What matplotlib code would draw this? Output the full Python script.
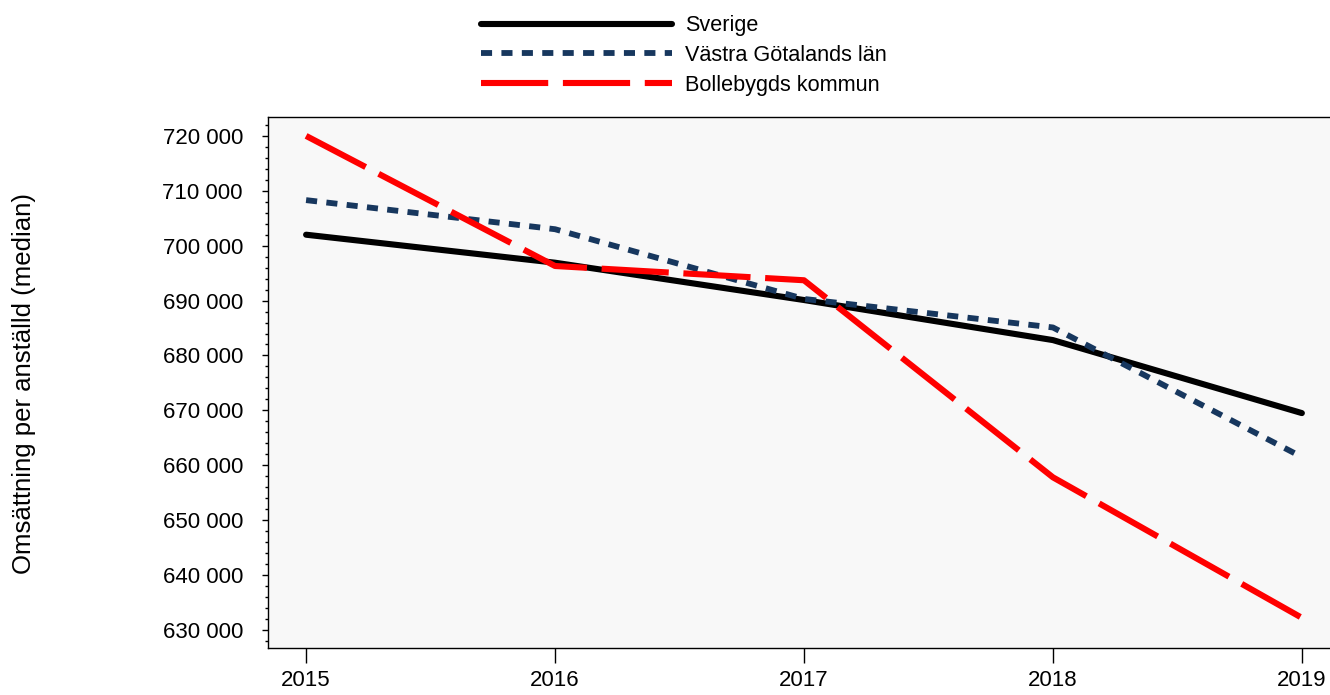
import numpy as np
import matplotlib
matplotlib.use("Agg")
from matplotlib import pyplot as plt
from matplotlib.ticker import MultipleLocator, FuncFormatter

plt.rcParams['font.family'] = ['Liberation Sans', 'DejaVu Sans']

years = [2015, 2016, 2017, 2018, 2019]
sverige = [702000, 696900, 690100, 682800, 669500]
vastra_gotaland = [708300, 703000, 690300, 685100, 661500]
bollebygd = [720000, 696300, 693700, 657800, 632200]

fig = plt.figure(figsize=(13.3, 6.95), dpi=100)
ax = fig.add_axes([0.2015, 0.0676, 0.7985, 0.7641])
ax.set_facecolor("#F8F8F8")

ax.plot(years, sverige, color="black", lw=4.4, solid_capstyle="round", label="Sverige")
ax.plot(years, vastra_gotaland, color="#17375E", lw=4.2, dashes=(1.9, 1.6),
        dash_capstyle="butt", label="Västra Götalands län")
ax.plot(years, bollebygd, color="#FF0000", lw=4.4, dashes=(11.0, 2.4),
        dash_capstyle="butt", label="Bollebygds kommun")

ax.set_xlim(2014.847, 2019.113)
ax.set_ylim(626700, 723450)
ax.set_xticks(years)
ax.yaxis.set_major_locator(MultipleLocator(10000))
ax.yaxis.set_minor_locator(MultipleLocator(2000))
ax.yaxis.set_major_formatter(FuncFormatter(lambda v, p: f"{int(v):,}".replace(",", " ")))

ax.tick_params(axis="y", which="major", length=4, width=1, labelsize=16, pad=14)
ax.tick_params(axis="y", which="minor", length=2, width=1)
ax.tick_params(axis="x", which="major", length=11, width=1, labelsize=16, pad=5)

for side in ["top", "left", "bottom"]:
    ax.spines[side].set_linewidth(1.0)
ax.spines["right"].set_visible(False)

fig.text(0.018, 0.448, "Omsättning per anställd (median)", rotation=90,
         ha="center", va="center", fontsize=18.5)

fig.legend(loc="upper left", bbox_to_anchor=(0.347, 1.006), frameon=False,
           fontsize=15.6, handlelength=8.8, handletextpad=0.6, labelspacing=0.4)

fig.savefig("out.png", dpi=100)
